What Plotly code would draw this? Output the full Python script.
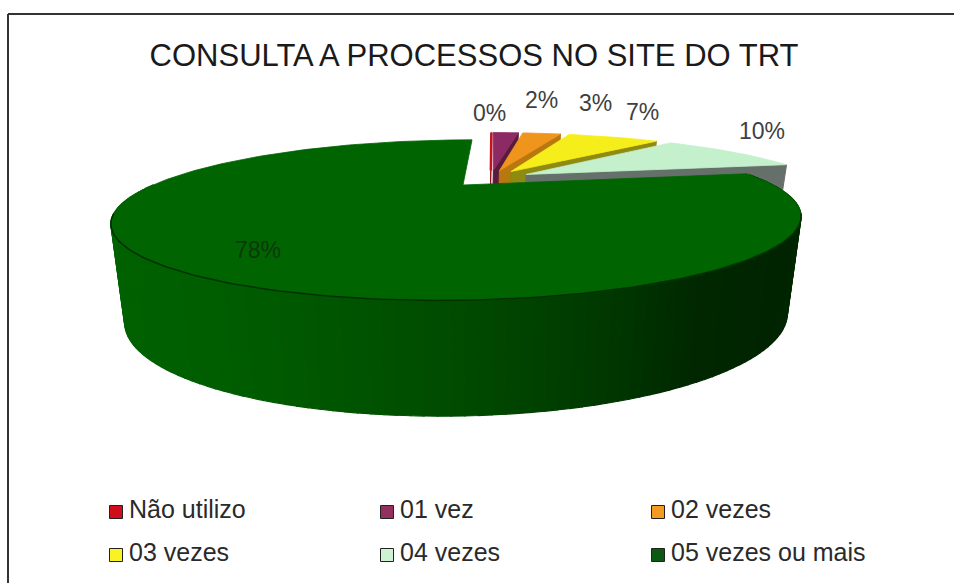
import numpy as np
import plotly.graph_objects as go

categories = ["Não utilizo", "01 vez", "02 vezes", "03 vezes", "04 vezes", "05 vezes ou mais"]
values = [0, 2, 3, 7, 10, 78]
labels = ["0%", "2%", "3%", "7%", "10%", "78%"]
title_text = "CONSULTA A PROCESSOS NO SITE DO TRT"

top_colors = ["#c8101c", "#8c2a63", "#f0951c", "#f6ee1a", "#c4f0cc", "#006400"]
wall_colors = ["#8a0d14", "#5a1a3c", "#b9770f", "#8f8a10", "#66706a", "#004a00"]
legend_colors = ["#d00d18", "#93305f", "#f49a20", "#fbf224", "#cdf2d4", "#0a5a12"]

# ----- projection of the pie plane on the page -----
C = -0.4375
A = -16.0
Y0 = 185.0
K = 310.0
CX = 456.0
SHEAR = -0.20
EXPLODE = 0.14
BOT_SX, BOT_YC, BOT_SY = 0.96, 318.0, 1.22


def project(X, Y):
    X, Y = np.asarray(X, float), np.asarray(Y, float)
    w = 1 + C * Y
    y = (A * Y + Y0) / w
    x = CX + K * X / w + SHEAR * (y - 220)
    return x, y


def drop(x, y):
    return CX + (x - CX) * BOT_SX, BOT_YC + (y - 220) * BOT_SY


fracs = np.array(values, float) / sum(values)
ends = np.cumsum(fracs) * 2 * np.pi
starts = ends - fracs * 2 * np.pi
mids = (starts + ends) / 2
gm = mids[-1]
px, py = -EXPLODE * np.sin(gm), EXPLODE * np.cos(gm)  # pie centre so last slice has no offset

fig = go.Figure()


def poly(xs, ys, fill, line=None, width=0.8):
    fig.add_trace(go.Scatter(x=list(xs), y=list(ys), mode="lines", fill="toself",
                             fillcolor=fill, line=dict(color=line or fill, width=width),
                             hoverinfo="skip", showlegend=False))


def wall_shade(x):
    g = np.interp(x, [112, 250, 450, 600, 700, 790, 805], [98, 92, 76, 58, 40, 36, 42])
    return f"rgb(0,{int(g)},0)"


for i in range(len(values)):
    ox = px + EXPLODE * np.sin(mids[i])
    oy = py - EXPLODE * np.cos(mids[i])
    if i == len(values) - 1:
        ox, oy = 0.0, 0.0
    n = max(2, int(fracs[i] * 240))
    t = np.linspace(starts[i], ends[i], n)
    X = np.r_[ox, ox + np.sin(t)]
    Y = np.r_[oy, oy - np.cos(t)]
    sx, sy = project(X, Y)
    if i < len(values) - 1:
        # radial side wall on the clockwise edge
        ax, ay = sx[0], sy[0]
        tx, ty = sx[-1], sy[-1]
        bx1, by1 = drop(ax, ay)
        bx2, by2 = drop(tx, ty)
        poly([ax, tx, bx2, bx1, ax], [ay, ty, by2, by1, ay], wall_colors[i], width=1)
    else:
        # outer curved wall, front part only
        tt = np.linspace(starts[i] + 0.02, np.pi * 1.5, 130)
        wx, wy = project(ox + np.sin(tt), oy - np.cos(tt))
        bx, by = drop(wx, wy)
        for k in range(len(tt) - 1):
            c = wall_shade((wx[k] + wx[k + 1]) / 2)
            poly([wx[k], wx[k + 1], bx[k + 1], bx[k], wx[k]],
                 [wy[k], wy[k + 1], by[k + 1], by[k], wy[k]], c, width=1.2)
    if values[i] == 0:
        fig.add_trace(go.Scatter(x=sx[:2], y=sy[:2], mode="lines",
                                 line=dict(color=top_colors[i], width=2.5),
                                 hoverinfo="skip", showlegend=False))
    else:
        poly(np.r_[sx, sx[0]], np.r_[sy, sy[0]], top_colors[i], width=0.8)
    if i == len(values) - 1:
        # dark rim along the front of the top surface
        tt = np.linspace(np.pi * 0.62, np.pi * 1.38, 120)
        wx, wy = project(ox + np.sin(tt), oy - np.cos(tt))
        fig.add_trace(go.Scatter(x=wx, y=wy, mode="lines", line=dict(color="#003000", width=1.5),
                                 hoverinfo="skip", showlegend=False))

# legend entries: swatch with its text, three to a row
col_x = [116, 387, 658]
row_y = [512, 555]
for j, (name, col) in enumerate(zip(categories, legend_colors)):
    fig.add_trace(go.Scatter(x=[col_x[j % 3]], y=[row_y[j // 3]], mode="markers", name=name,
                             marker=dict(symbol="square", size=13, color=col,
                                         line=dict(color="#222222", width=1)),
                             hoverinfo="name", showlegend=False))
    fig.add_trace(go.Scatter(x=[col_x[j % 3] + 13], y=[row_y[j // 3]], mode="text", name=name,
                             text=[name], textposition="middle right",
                             textfont=dict(family="Liberation Sans", size=25, color="#2a2a2a"),
                             hoverinfo="skip", showlegend=False))

label_pos = [(489, 113), (541, 100), (595, 103), (642, 112), (762, 131), (258, 250)]
label_cols = ["#404040"] * 5 + ["#0a3a0a"]
for txt, (lx, ly), lc in zip(labels, label_pos, label_cols):
    fig.add_annotation(x=lx, y=ly, text=txt, showarrow=False,
                       font=dict(family="Liberation Sans", size=23, color=lc))

fig.add_shape(type="line", x0=8, x1=954, y0=14, y1=14, line=dict(color="#333333", width=2))
fig.add_shape(type="line", x0=8, x1=8, y0=14, y1=583, line=dict(color="#333333", width=2))

fig.update_layout(
    width=954, height=583, margin=dict(l=0, r=0, t=0, b=0, autoexpand=False),
    paper_bgcolor="white", plot_bgcolor="white",
    title=dict(text=title_text, x=474 / 954, xanchor="center", y=1 - 55 / 583, yanchor="middle",
               font=dict(family="Liberation Sans", size=31, color="#1a1a1a")),
    xaxis=dict(range=[0, 954], visible=False, fixedrange=True),
    yaxis=dict(range=[583, 0], visible=False, fixedrange=True),
    showlegend=False,
)
fig.write_html("out.html", config=dict(displayModeBar=False),
               post_script="document.body.style.margin='0';document.body.style.overflow='hidden';")
